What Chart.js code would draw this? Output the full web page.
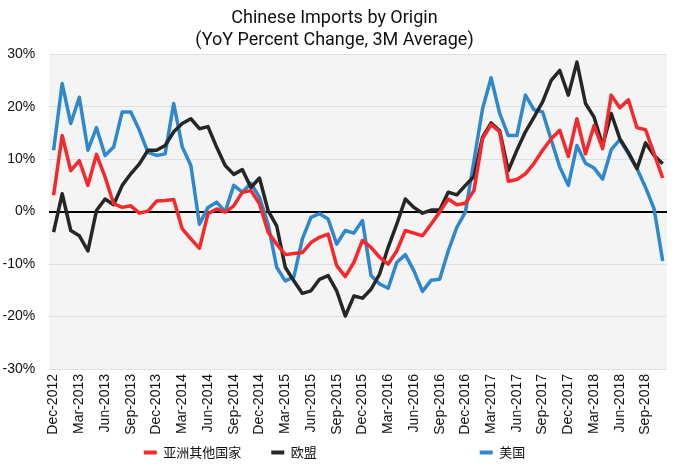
<!DOCTYPE html>
<html>
<head>
<meta charset="utf-8">
<script src="https://cdn.jsdelivr.net/npm/chart.js@4/dist/chart.umd.min.js"></script>
<style>
html,body{margin:0;padding:0;background:#fff;}
#wrap{width:680px;height:464px;}
</style>
</head>
<body>
<div id="wrap"><canvas id="c" width="680" height="464"></canvas></div>
<script>
const months = [
"Dec-2012","Jan-2013","Feb-2013","Mar-2013","Apr-2013","May-2013","Jun-2013","Jul-2013","Aug-2013","Sep-2013","Oct-2013","Nov-2013",
"Dec-2013","Jan-2014","Feb-2014","Mar-2014","Apr-2014","May-2014","Jun-2014","Jul-2014","Aug-2014","Sep-2014","Oct-2014","Nov-2014",
"Dec-2014","Jan-2015","Feb-2015","Mar-2015","Apr-2015","May-2015","Jun-2015","Jul-2015","Aug-2015","Sep-2015","Oct-2015","Nov-2015",
"Dec-2015","Jan-2016","Feb-2016","Mar-2016","Apr-2016","May-2016","Jun-2016","Jul-2016","Aug-2016","Sep-2016","Oct-2016","Nov-2016",
"Dec-2016","Jan-2017","Feb-2017","Mar-2017","Apr-2017","May-2017","Jun-2017","Jul-2017","Aug-2017","Sep-2017","Oct-2017","Nov-2017",
"Dec-2017","Jan-2018","Feb-2018","Mar-2018","Apr-2018","May-2018","Jun-2018","Jul-2018","Aug-2018","Sep-2018","Oct-2018","Nov-2018"
];

const seriesNames = ["亚洲其他国家", "欧盟", "美国"];

const otherAsia = [
3.1,14.5,7.8,9.7,5.0,10.9,6.6,1.5,0.8,1.1,-0.3,0.1,
2.0,2.1,2.3,-3.3,-5.2,-7.0,-0.4,0.5,-0.1,1.1,3.7,4.0,
1.5,-3.9,-6.2,-8.2,-8.0,-7.8,-5.9,-4.9,-4.3,-10.3,-12.4,-9.7,
-5.5,-6.8,-8.7,-10.0,-7.5,-3.6,-4.1,-4.6,-2.4,-0.1,2.4,1.3,
1.6,4.0,13.9,16.6,15.2,5.8,6.1,7.2,9.2,11.7,13.9,15.5,
10.5,17.7,11.0,16.4,12.0,22.2,19.8,21.3,16.0,15.6,11.0,6.4
];

const eu = [
-3.9,3.4,-3.6,-4.6,-7.5,0.2,2.4,1.3,5.0,7.2,9.1,11.7,
11.7,12.6,15.2,16.8,17.7,15.8,16.2,12.3,8.8,7.1,8.0,4.6,
6.4,0.2,-2.7,-10.6,-13.2,-15.6,-15.1,-12.9,-12.2,-15.1,-19.9,-16.1,
-16.5,-14.8,-11.9,-6.8,-2.4,2.4,0.8,-0.3,0.3,0.3,3.7,3.2,
5.0,6.7,14.2,16.9,15.4,7.8,11.7,15.2,18.0,20.9,25.0,26.9,
22.2,28.5,20.6,18.0,12.6,18.7,13.9,11.3,8.2,13.1,10.7,9.1
];

const us = [
11.7,24.4,16.8,21.8,11.7,16.0,10.7,12.3,19.0,19.0,15.5,11.3,
10.7,11.0,20.6,12.3,8.8,-2.4,0.8,1.8,0.0,5.0,3.7,5.4,
2.7,-2.4,-10.6,-13.2,-12.5,-5.2,-1.1,-0.4,-1.4,-6.2,-3.6,-4.1,
-1.7,-12.2,-13.8,-14.6,-9.7,-8.2,-11.3,-15.2,-13.1,-12.9,-7.5,-3.0,
-0.1,9.7,19.6,25.5,18.7,14.5,14.5,22.2,19.4,19.0,13.7,8.5,
5.0,12.6,9.2,8.3,6.2,11.8,13.7,11.0,8.2,4.6,0.5,-9.4
];

const titleLines = ["Chinese Imports by Origin", "(YoY Percent Change, 3M Average)"];

const colors = ["#f5282c", "#262626", "#2f88cc"];
// trailing spacing after each legend text (reproduces the reference's uneven legend spacing)
const legendPad = ["\u3000\u3000", "\u3000\u3000\u3000\u3000\u3000\u3000\u3000\u3000\u3000\u3000\u3000\u3000 ", ""];

const bgPlugin = {
  id: 'bg',
  beforeDraw(chart) {
    const a = chart.chartArea, ctx = chart.ctx;
    ctx.save();
    ctx.fillStyle = '#f4f4f4';
    ctx.fillRect(a.left, a.top, a.right - a.left, a.bottom - a.top);
    ctx.restore();
  }
};

const seriesData = [otherAsia, eu, us];

new Chart(document.getElementById('c'), {
  type: 'line',
  data: {
    labels: months,
    datasets: seriesData.map((d, i) => ({
      label: seriesNames[i],
      data: d,
      borderColor: colors[i],
      backgroundColor: colors[i],
      borderWidth: 3.5,
      pointRadius: 0,
      tension: 0,
      fill: false,
      borderJoinStyle: 'round'
    }))
  },
  options: {
    responsive: false,
    animation: false,
    devicePixelRatio: 1,
    layout: { padding: { left: 2, right: 13, top: 0, bottom: -5 } },
    plugins: {
      title: {
        display: true,
        text: titleLines,
        color: '#111',
        font: { family: 'Roboto', size: 18, weight: 'normal', lineHeight: 1.2 },
        padding: { top: 8, bottom: 3 }
      },
      legend: {
        position: 'bottom',
        labels: {
          boxWidth: 13,
          boxHeight: 4,
          padding: 4,
          color: '#111',
          font: { family: 'Noto Sans CJK SC', size: 13 },
          generateLabels(chart) {
            const items = Chart.defaults.plugins.legend.labels.generateLabels(chart);
            items.forEach((it, i) => { it.lineWidth = 0; it.text = seriesNames[i] + legendPad[i]; });
            return items;
          }
        }
      },
      tooltip: { enabled: false }
    },
    scales: {
      x: {
        offset: true,
        grid: { display: false, drawTicks: false },
        border: { display: false },
        afterFit(s) { s.height = 73; s.paddingLeft = 0; s.paddingRight = 0; },
        ticks: {
          autoSkip: false,
          maxRotation: 90,
          minRotation: 90,
          padding: 5,
          color: '#111',
          font: { family: 'Liberation Sans', size: 14 },
          callback(v, i) { return i % 3 === 0 ? months[i] : ''; }
        }
      },
      y: {
        min: -30,
        max: 30,
        border: { display: false },
        afterFit(s) { s.width = 47.3; s.paddingTop = 0; s.paddingBottom = 0; },
        grid: {
          drawTicks: false,
          color: ctx => ctx.tick.value === 0 ? '#000' : '#e0e0e0',
          lineWidth: ctx => ctx.tick.value === 0 ? 2 : 1
        },
        ticks: {
          stepSize: 10,
          padding: 14,
          color: '#111',
          font: { family: 'Liberation Sans', size: 14 },
          callback: v => v + '%'
        }
      }
    }
  },
  plugins: [bgPlugin]
});
</script>
</body>
</html>
